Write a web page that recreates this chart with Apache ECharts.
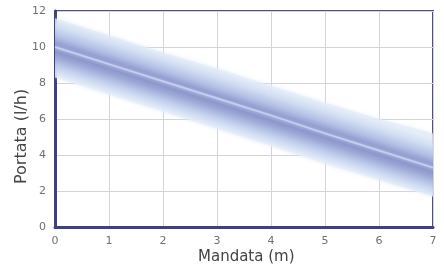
<!DOCTYPE html>
<html><head><meta charset="utf-8">
<script src="https://cdn.jsdelivr.net/npm/echarts@6/dist/echarts.min.js"></script>
<style>html,body{margin:0;padding:0;background:#fff}#c{width:444px;height:271px}</style>
</head><body><div id="c"></div>
<script>
const xValues = [0, 1, 2, 3, 4, 5, 6, 7];
const center = [10.0, 9.05, 8.1, 7.15, 6.2, 5.2, 4.25, 3.3];
const bandUpper = [11.6, 10.65, 9.7, 8.8, 7.85, 6.9, 6.0, 5.2];
const bandLower = [8.3, 7.35, 6.4, 5.45, 4.5, 3.5, 2.6, 1.7];
const xTicks = ['0','1','2','3','4','5','6','7'];
const yTicks = ['0','2','4','6','8','10','12'];

const bandStops = [
  { offset: 0.00, color: 'rgba(226,236,248,0.75)' },
  { offset: 0.14, color: 'rgba(208,220,241,0.95)' },
  { offset: 0.30, color: 'rgba(178,190,228,0.97)' },
  { offset: 0.42, color: 'rgba(146,156,208,0.97)' },
  { offset: 0.50, color: 'rgba(160,170,216,0.97)' },
  { offset: 0.56, color: 'rgba(138,148,202,0.97)' },
  { offset: 0.66, color: 'rgba(156,168,214,0.97)' },
  { offset: 0.80, color: 'rgba(190,204,234,0.95)' },
  { offset: 0.92, color: 'rgba(216,228,244,0.9)' },
  { offset: 1.00, color: 'rgba(232,240,249,0.75)' }
];

const bandSeries = {
  type: 'custom',
  data: [0],
  z: 1,
  silent: true,
  renderItem: function (params, api) {
    const pts = [];
    for (let i = 0; i < xValues.length; i++) pts.push(api.coord([xValues[i], bandUpper[i]]));
    for (let i = xValues.length - 1; i >= 0; i--) pts.push(api.coord([xValues[i], bandLower[i]]));
    const n = xValues.length - 1;
    const p0 = api.coord([xValues[0], center[0]]);
    const p1 = api.coord([xValues[n], center[n]]);
    let dx = p1[0] - p0[0], dy = p1[1] - p0[1];
    const len = Math.hypot(dx, dy); dx /= len; dy /= len;
    let nx = -dy, ny = dx;
    if (ny < 0) { nx = -nx; ny = -ny; }
    const mid = [(p0[0] + p1[0]) / 2, (p0[1] + p1[1]) / 2];
    const u0 = api.coord([xValues[0], bandUpper[0]]);
    const l0 = api.coord([xValues[0], bandLower[0]]);
    const wu = Math.abs((u0[0] - p0[0]) * nx + (u0[1] - p0[1]) * ny);
    const wl = Math.abs((l0[0] - p0[0]) * nx + (l0[1] - p0[1]) * ny);
    const g = {
      type: 'linear', global: true,
      x: mid[0] - nx * wu, y: mid[1] - ny * wu,
      x2: mid[0] + nx * wl, y2: mid[1] + ny * wl,
      colorStops: bandStops
    };
    const cs = params.coordSys;
    return {
      type: 'polygon',
      shape: { points: pts },
      style: { fill: g, shadowBlur: 4, shadowColor: 'rgba(215,226,244,0.8)' },
      clipPath: { type: 'rect', shape: { x: cs.x, y: cs.y, width: cs.width, height: cs.height } }
    };
  }
};

const chart = echarts.init(document.getElementById('c'));
chart.setOption({
  animation: false,
  backgroundColor: '#fff',
  grid: { left: 55, right: 11, top: 11, bottom: 44, show: true, borderColor: '#4b4f8a', borderWidth: 2 },
  xAxis: {
    type: 'value', min: 0, max: 7, interval: 1,
    axisLine: { show: true, lineStyle: { color: '#3f4280', width: 3 } },
    axisTick: { show: false },
    axisLabel: { fontFamily: 'DejaVu Sans', fontSize: 11, color: '#707070', margin: 9, formatter: v => xTicks[v] },
    splitLine: { show: true, lineStyle: { color: '#d4d4d8', width: 1 } }
  },
  yAxis: {
    type: 'value', min: 0, max: 12, interval: 2,
    axisLine: { show: true, lineStyle: { color: '#3f4280', width: 3 } },
    axisTick: { show: false },
    axisLabel: { fontFamily: 'DejaVu Sans', fontSize: 11, color: '#707070', margin: 9, formatter: v => yTicks[v / 2] },
    splitLine: { show: true, lineStyle: { color: '#d4d4d8', width: 1 } }
  },
  graphic: [
    { type: 'text', left: 198, top: 250, style: { text: 'Mandata (m)', font: '15px "DejaVu Sans"', fill: '#444' } },
    { type: 'text', x: 14, y: 184, rotation: Math.PI / 2,
      style: { text: 'Portata (l/h)', font: '16px "DejaVu Sans"', fill: '#444' } }
  ],
  series: [
    bandSeries,
    {
      type: 'line', z: 3, symbol: 'none', silent: true,
      data: xValues.map((x, i) => [x, center[i]]),
      lineStyle: { color: '#c4ccef', width: 2 }
    }
  ]
});
</script></body></html>
